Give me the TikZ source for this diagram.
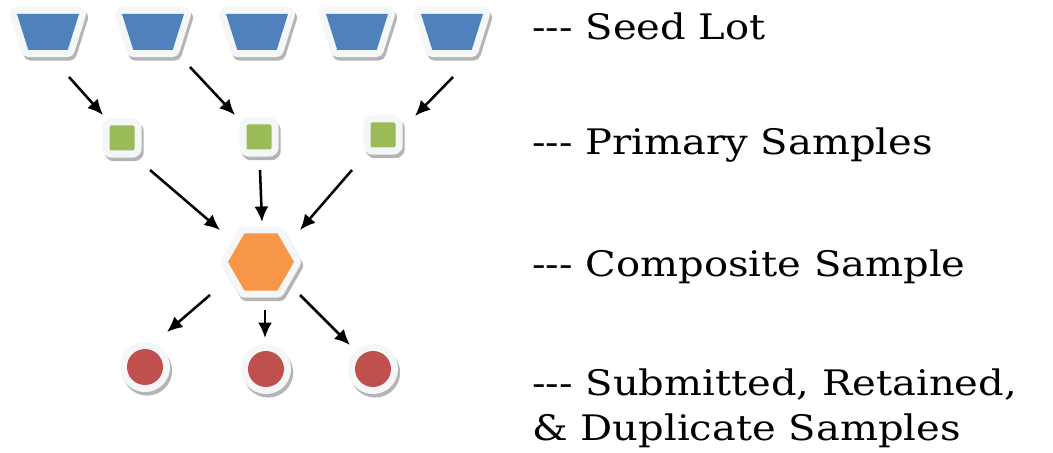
\documentclass[tikz,border=0pt]{standalone}
\usepackage{fontspec}
\setmainfont[FakeStretch=1.14]{DejaVu Serif}
\usetikzlibrary{shapes.geometric,arrows.meta,calc}

\definecolor{lotblue}{HTML}{4F81BD}
\definecolor{primgreen}{HTML}{9BBB59}
\definecolor{comporange}{HTML}{F79646}
\definecolor{subred}{HTML}{C0504D}
\definecolor{rim}{HTML}{F5F6F8}
\definecolor{shade}{HTML}{B4B4B4}

\tikzset{
  tile/.style={inner sep=0.5pt,
    preaction={draw=shade,fill=shade,line width=10pt,line join=round,
      transform canvas={shift={(1.5pt,-2.5pt)}}},
    preaction={draw=rim,line width=10pt,line join=round}},
  lot/.style={tile,trapezium,shape border rotate=180,trapezium stretches=true,
    trapezium angle=74,minimum width=1.55cm,minimum height=0.9cm,fill=lotblue},
  prim/.style={tile,rectangle,rounded corners=1pt,minimum size=0.625cm,fill=primgreen},
  comp/.style={tile,regular polygon,regular polygon sides=6,minimum size=1.65cm,fill=comporange},
  sub/.style={tile,circle,minimum size=0.9cm,fill=subred},
  arr/.style={-{Latex[length=11pt,width=10pt]},line width=1.8pt},
  lbl/.style={anchor=base west,inner sep=0pt,align=left,
    font=\fontsize{25}{32}\selectfont},
}

\begin{document}
\begin{tikzpicture}
        \useasboundingbox (0,0) rectangle (26.325,-11.325) ;
        % seed lot
        \node[lot] (lot1) at (1.2,-0.8) {} ;
        \node[lot] (lot2) at (3.825,-0.8) {} ;
        \node[lot] (lot3) at (6.425,-0.8) {} ;
        \node[lot] (lot4) at (8.925,-0.8) {} ;
        \node[lot] (lot5) at (11.3,-0.8) {} ;
        % primary samples
        \node[prim] (prim1) at (3.05,-3.45) {} ;
        \node[prim] (prim2) at (6.475,-3.425) {} ;
        \node[prim] (prim3) at (9.575,-3.375) {} ;
        % composite sample
        \node[comp] (comp) at (6.525,-6.55) {} ;
        % submitted, retained, duplicate
        \node[sub] (sub1) at (3.625,-9.175) {} ;
        \node[sub] (sub2) at (6.65,-9.225) {} ;
        \node[sub] (sub3) at (9.325,-9.225) {} ;

        \draw[arr] ($(lot1)+(0.525,-1.125)$) -- ($(prim1)+(-0.475,0.575)$) ;
        \draw[arr] ($(lot2)+(0.925,-0.875)$) -- ($(prim2)+(-0.6,0.55)$) ;
        \draw[arr] ($(lot5)+(0.025,-1.125)$) -- ($(prim3)+(0.8,0.475)$) ;

        \draw[arr] ($(prim1)+(0.7,-0.8)$) -- ($(comp)+(-1.025,0.8)$) ;
        \draw[arr] ($(prim2)+(0.025,-0.825)$) -- ($(comp)+(0.025,1.0)$) ;
        \draw[arr] ($(prim3)+(-0.775,-0.875)$) -- ($(comp)+(0.975,0.8)$) ;

        \draw[arr] ($(comp)+(-1.275,-0.825)$) -- ($(sub1)+(0.55,0.875)$) ;
        \draw[arr] ($(comp)+(0.1,-1.2)$) -- ($(sub2)+(-0.025,0.775)$) ;
        \draw[arr] ($(comp)+(0.975,-0.825)$) -- ($(sub3)+(-0.575,0.6)$) ;

        \node[lbl] (lbllot) at (13.3,-1.0) {-{}-{}- Seed Lot} ;
        \node[lbl] (lblprim) at (13.3,-3.875) {-{}-{}- Primary Samples} ;
        \node[lbl] (lblcomp) at (13.3,-6.925) {-{}-{}- Composite Sample} ;
        \node[lbl] (lblsub) at (13.3,-11.0) {-{}-{}- Submitted, Retained,\\\& Duplicate Samples} ;
      \end{tikzpicture}
\end{document}
